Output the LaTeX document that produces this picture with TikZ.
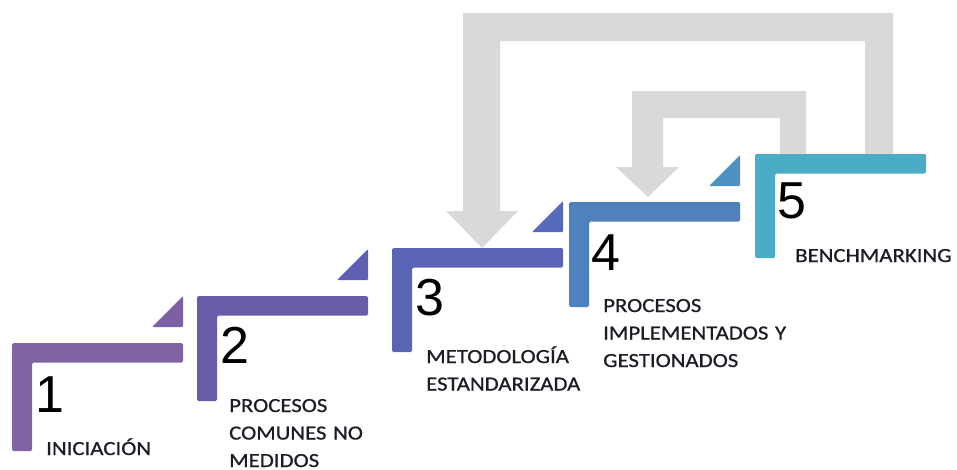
\documentclass[tikz,border=0pt]{standalone}
\usepackage{fontspec}
\newfontfamily\lblfont[FakeStretch=1.14,FakeBold=0.8]{Carlito}
\newfontfamily\numfont{Liberation Sans}

\definecolor{stepA}{HTML}{8064A2}
\definecolor{triA}{HTML}{7B61A4}
\definecolor{stepB}{HTML}{6A5BA9}
\definecolor{triB}{HTML}{5E5FB2}
\definecolor{stepC}{HTML}{5A64B4}
\definecolor{triC}{HTML}{5669BA}
\definecolor{stepD}{HTML}{4F81BD}
\definecolor{triD}{HTML}{4E92C2}
\definecolor{stepE}{HTML}{4BACC6}
\definecolor{loopgray}{HTML}{D9D9D9}
\definecolor{txtdark}{HTML}{1C1C24}

% one L-shaped stair: left x, top y, height, colour
\newcommand\stairL[4]{%
  \fill[#4, rounded corners=1.5pt]
    (#1,#2) -- (#1+171,#2) -- (#1+171,#2+19.5) -- (#1+20,#2+19.5)
    -- (#1+20,#2+#3) -- (#1,#2+#3) -- cycle;}
% small corner triangle above the right end of a stair
\newcommand\stairTri[3]{%
  \fill[#3, rounded corners=1pt]
    (#1+140,#2-16) -- (#1+171,#2-47) -- (#1+171,#2-16) -- cycle;}

\begin{document}
\begin{tikzpicture}[x=1pt,y=-1pt,
  numlbl/.style={anchor=base west, inner sep=0pt,
    font=\numfont\fontsize{52}{52}\selectfont, text=black},
  txtlbl/.style={anchor=base west, inner sep=0pt, text width=220pt, align=left,
    font=\lblfont\fontsize{20}{27.5}\selectfont, text=txtdark}]
\useasboundingbox (0,0) rectangle (957,469);

% feedback loops (behind the stairs)
\fill[loopgray] (893,154) -- (893,13) -- (463,13) -- (463,211) -- (446,211)
  -- (482,248) -- (518,211) -- (500,211) -- (500,41) -- (865,41) -- (865,154) -- cycle;
\fill[loopgray] (806,154) -- (806,91) -- (632,91) -- (632,167) -- (616,167)
  -- (648,197) -- (679,167) -- (663,167) -- (663,118) -- (780,118) -- (780,154) -- cycle;

% stairs
\stairL{12}{343}{108}{stepA}
\stairTri{12}{343}{triA}
\stairL{197}{296}{105}{stepB}
\stairTri{197}{296}{triB}
\stairL{392}{248}{104}{stepC}
\stairTri{392}{248}{triC}
\stairL{569}{202}{105}{stepD}
\stairTri{569}{202}{triD}
\stairL{755}{154}{104}{stepE}

% level numbers
\node[numlbl] (n1) at (35,412) {1};
\node[numlbl] (n2) at (220,363) {2};
\node[numlbl] (n3) at (415,315) {3};
\node[numlbl] (n4) at (591,270) {4};
\node[numlbl] (n5) at (777,218) {5};

% level names
\node[txtlbl] (l1) at (46,455) {INICIACIÓN};
\node[txtlbl] (l2) at (229,412) {PROCESOS\\COMUNES NO\\MEDIDOS};
\node[txtlbl] (l3) at (426,363) {METODOLOGÍA\\ESTANDARIZADA};
\node[txtlbl] (l4) at (603,312) {PROCESOS\\IMPLEMENTADOS Y\\GESTIONADOS};
\node[txtlbl] (l5) at (795,262) {BENCHMARKING};
\end{tikzpicture}
\end{document}
